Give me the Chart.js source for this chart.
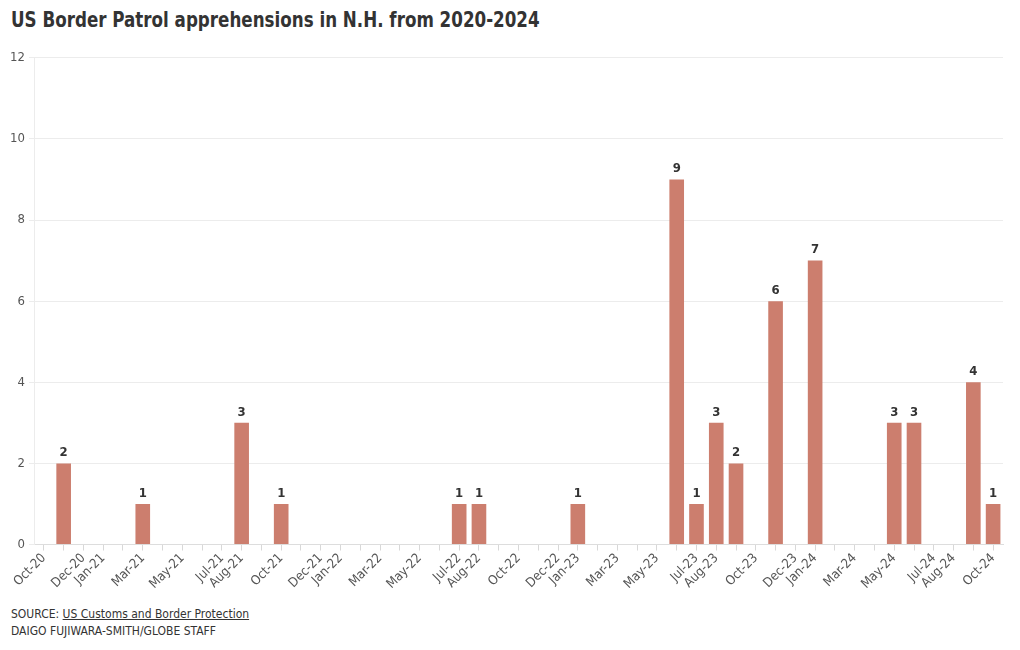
<!DOCTYPE html>
<html>
<head>
<meta charset="utf-8">
<script src="https://cdn.jsdelivr.net/npm/chart.js@4/dist/chart.umd.min.js"></script>
<style>
  body { margin: 0; background: #fff; font-family: "DejaVu Sans Condensed", "DejaVu Sans", sans-serif; }
  #wrap { position: relative; width: 1020px; height: 650px; }
  h1 { position: absolute; left: 11px; top: 8px; margin: 0; font-size: 21px; font-weight: bold; color: #333;
       white-space: nowrap; transform: scaleX(0.885); transform-origin: left top; }
  #box { position: absolute; left: 0; top: 46px; width: 1020px; height: 546px; }
  #foot { position: absolute; left: 11px; top: 606px; font-size: 12px; color: #333; line-height: 17px; }
  #foot u { text-decoration: underline; }
</style>
</head>
<body>
<div id="wrap">
  <h1>US Border Patrol apprehensions in N.H. from 2020-2024</h1>
  <div id="box"><canvas id="barChart"></canvas></div>
  <div id="foot">SOURCE: <u>US Customs and Border Protection</u><br>DAIGO FUJIWARA-SMITH/GLOBE STAFF</div>
</div>
<script>
var months = [
    'Oct-20', 'Nov-20', 'Dec-20',
    'Jan-21', 'Feb-21', 'Mar-21', 'Apr-21', 'May-21', 'Jun-21', 'Jul-21', 'Aug-21', 'Sep-21', 'Oct-21', 'Nov-21', 'Dec-21',
    'Jan-22', 'Feb-22', 'Mar-22', 'Apr-22', 'May-22', 'Jun-22', 'Jul-22', 'Aug-22', 'Sep-22', 'Oct-22', 'Nov-22', 'Dec-22',
    'Jan-23', 'Feb-23', 'Mar-23', 'Apr-23', 'May-23', 'Jun-23', 'Jul-23', 'Aug-23', 'Sep-23', 'Oct-23', 'Nov-23', 'Dec-23',
    'Jan-24', 'Feb-24', 'Mar-24', 'Apr-24', 'May-24', 'Jun-24', 'Jul-24', 'Aug-24', 'Sep-24', 'Oct-24'
];
var apprehensions = [
    0, 2, 0,
    0, 0, 1, 0, 0, 0, 0, 3, 0, 1, 0, 0,
    0, 0, 0, 0, 0, 0, 1, 1, 0, 0, 0, 0,
    1, 0, 0, 0, 0, 9, 1, 3, 2, 0, 6, 0,
    7, 0, 0, 0, 3, 3, 0, 0, 4, 1
];
var shownLabels = [
    'Oct-20', 'Dec-20', 'Jan-21', 'Mar-21', 'May-21', 'Jul-21', 'Aug-21', 'Oct-21', 'Dec-21',
    'Jan-22', 'Mar-22', 'May-22', 'Jul-22', 'Aug-22', 'Oct-22', 'Dec-22', 'Jan-23', 'Mar-23',
    'May-23', 'Jul-23', 'Aug-23', 'Oct-23', 'Dec-23', 'Jan-24', 'Mar-24', 'May-24', 'Jul-24',
    'Aug-24', 'Oct-24'
];
var yTicks = [0, 2, 4, 6, 8, 10, 12];

var fontFamily = '"DejaVu Sans Condensed", "DejaVu Sans", sans-serif';

// value labels on top of bars
var barLabels = {
    id: 'barLabels',
    afterDatasetsDraw: function(chart) {
        var ctx = chart.ctx;
        var meta = chart.getDatasetMeta(0);
        ctx.save();
        ctx.font = 'bold 13px ' + fontFamily;
        ctx.fillStyle = '#333';
        ctx.textAlign = 'center';
        ctx.textBaseline = 'bottom';
        meta.data.forEach(function(bar, i) {
            var v = chart.data.datasets[0].data[i];
            if (!v) return;
            ctx.fillText(v, bar.x, bar.y - 4);
        });
        ctx.restore();
    }
};

var ctx = document.getElementById('barChart').getContext('2d');
new Chart(ctx, {
    type: 'bar',
    data: {
        labels: months,
        datasets: [{
            data: apprehensions,
            backgroundColor: '#cc7e6e',
            barPercentage: 0.74,
            categoryPercentage: 1
        }]
    },
    options: {
        responsive: true,
        maintainAspectRatio: false,
        animation: false,
        layout: { padding: { top: 5, right: 17, left: 0, bottom: 0 } },
        plugins: {
            legend: { display: false },
            tooltip: { enabled: false }
        },
        scales: {
            x: {
                offset: true,
                grid: { offset: false, drawOnChartArea: false, color: '#d8d8d8', tickLength: 6 },
                border: { color: '#dddddd' },
                ticks: {
                    autoSkip: false,
                    maxRotation: 45,
                    minRotation: 45,
                    padding: 0,
                    color: '#555',
                    font: { family: fontFamily, size: 13 },
                    callback: function(val, i) {
                        var lab = months[i];
                        return shownLabels.indexOf(lab) >= 0 ? lab : '';
                    }
                }
            },
            y: {
                min: 0,
                max: 12,
                afterBuildTicks: function(scale) {
                    scale.ticks = yTicks.map(function(v) { return { value: v }; });
                },
                afterFit: function(scale) { scale.width = 34; },
                grid: { color: '#ececec', tickLength: 5 },
                border: { color: '#ececec' },
                ticks: {
                    padding: 4,
                    color: '#555',
                    font: { family: fontFamily, size: 13 }
                }
            }
        }
    },
    plugins: [barLabels]
});
</script>
</body>
</html>
